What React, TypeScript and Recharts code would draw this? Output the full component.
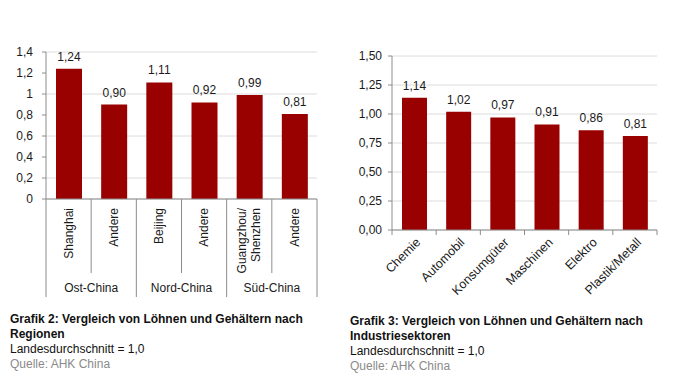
import React from "react";
import { BarChart, Bar, XAxis, YAxis, CartesianGrid, LabelList } from "recharts";

// Grafik 2: Regionen
const regions = ["Shanghai", "Andere", "Beijing", "Andere", "Guangzhou/\nShenzhen", "Andere"];
const regionGroups = ["Ost-China", "Nord-China", "Süd-China"];
const regionValues = [1.24, 0.9, 1.11, 0.92, 0.99, 0.81];
const regionTicks = [0, 0.2, 0.4, 0.6, 0.8, 1, 1.2, 1.4];

// Grafik 3: Industriesektoren
const sectors = ["Chemie", "Automobil", "Konsumgüter", "Maschinen", "Elektro", "Plastik/Metall"];
const sectorValues = [1.14, 1.02, 0.97, 0.91, 0.86, 0.81];
const sectorTicks = [0, 0.25, 0.5, 0.75, 1, 1.25, 1.5];

const FONT = "'Liberation Sans', Arial, Helvetica, sans-serif";
const BAR = "#990000";
const AXIS = "#8c8c8c";
const GRID = "#dcdcdc";

const comma = (v: number, d?: number) =>
  (d === undefined ? String(v) : v.toFixed(d)).replace(".", ",");

const regionData = regions.map((name, i) => ({ name, value: regionValues[i] }));
const sectorData = sectors.map((name, i) => ({ name, value: sectorValues[i] }));

// left chart geometry
const L_W = 330, L_H = 300, L_YW = 46, L_MR = 13;
const L_BAND = (L_W - L_YW - L_MR) / regions.length;

// right chart geometry
const R_W = 344, R_H = 300, R_YW = 52, R_MR = 27;
const R_BAND = (R_W - R_YW - R_MR) / sectors.length;

const RegionTick = (props: any) => {
  const { x, y, payload } = props;
  const i = payload.index;
  const half = L_BAND / 2;
  const lines = String(payload.value).split("\n");
  const isGroupStart = i % 2 === 0;
  return (
    <g>
      <line x1={x - half} x2={x - half} y1={y} y2={y + (isGroupStart ? 98 : 74)} stroke={AXIS} />
      {i === regions.length - 1 && (
        <line x1={x + half} x2={x + half} y1={y} y2={y + 98} stroke={AXIS} />
      )}
      <text
        transform={`rotate(-90, ${x}, ${y + 9})`}
        x={x}
        y={y + 9}
        textAnchor="end"
        fontSize={12}
        fontFamily={FONT}
        fill="#1a1a1a"
      >
        {lines.map((l, k) => (
          <tspan key={k} x={x} dy={k === 0 ? (lines.length === 1 ? "0.35em" : "-0.25em") : "1.15em"}>
            {l}
          </tspan>
        ))}
      </text>
      {isGroupStart && (
        <text
          x={x + half}
          y={y + 89}
          dy="0.35em"
          textAnchor="middle"
          fontSize={12}
          fontFamily={FONT}
          fill="#1a1a1a"
        >
          {regionGroups[i / 2]}
        </text>
      )}
    </g>
  );
};

const SectorTick = (props: any) => {
  const { x, y, payload } = props;
  const i = payload.index;
  const half = R_BAND / 2;
  return (
    <g>
      <line x1={x - half} x2={x - half} y1={y} y2={y + 5} stroke={AXIS} />
      {i === sectors.length - 1 && <line x1={x + half} x2={x + half} y1={y} y2={y + 5} stroke={AXIS} />}
      <text
        transform={`rotate(-45, ${x + 4}, ${y + 10})`}
        x={x + 4}
        y={y + 10}
        dy="0.35em"
        textAnchor="end"
        fontSize={12.5}
        fontFamily={FONT}
        fill="#1a1a1a"
      >
        {payload.value}
      </text>
    </g>
  );
};

const captionStyle: React.CSSProperties = {
  position: "absolute",
  fontFamily: FONT,
  fontSize: 12,
  lineHeight: "15px",
  color: "#111",
};

export default function App() {
  return (
    <div style={{ position: "absolute", left: 0, top: 0, width: 684, height: 386, background: "#fff" }}>
      <div style={{ position: "absolute", left: 0, top: 0 }}>
        <BarChart
          width={L_W}
          height={L_H}
          data={regionData}
          margin={{ top: 52, right: L_MR, bottom: 0, left: 0 }}
          barSize={26}
        >
          <CartesianGrid vertical={false} stroke={GRID} />
          <XAxis
            dataKey="name"
            height={101}
            axisLine={{ stroke: AXIS }}
            tickLine={false}
            tickSize={0}
            tickMargin={0}
            interval={0}
            tick={<RegionTick />}
          />
          <YAxis
            width={L_YW}
            domain={[0, 1.4]}
            ticks={regionTicks}
            axisLine={{ stroke: AXIS }}
            tickLine={{ stroke: AXIS }}
            tickSize={4}
            tickMargin={9}
            tickFormatter={(v: number) => comma(v)}
            tick={{ fontSize: 12, fontFamily: FONT, fill: "#1a1a1a" }}
          />
          <Bar dataKey="value" fill={BAR} isAnimationActive={false}>
            <LabelList
              dataKey="value"
              position="top"
              offset={8}
              formatter={(v: any) => comma(Number(v), 2)}
              style={{ fontSize: 12, fontFamily: FONT, fill: "#1a1a1a" }}
            />
          </Bar>
        </BarChart>
      </div>

      <div style={{ position: "absolute", left: 340, top: 0 }}>
        <BarChart
          width={R_W}
          height={R_H}
          data={sectorData}
          margin={{ top: 56, right: R_MR, bottom: 0, left: 0 }}
          barSize={25}
        >
          <CartesianGrid vertical={false} stroke={GRID} />
          <XAxis
            dataKey="name"
            height={70}
            axisLine={{ stroke: AXIS }}
            tickLine={false}
            tickSize={0}
            tickMargin={0}
            interval={0}
            tick={<SectorTick />}
          />
          <YAxis
            width={R_YW}
            domain={[0, 1.5]}
            ticks={sectorTicks}
            axisLine={{ stroke: AXIS }}
            tickLine={{ stroke: AXIS }}
            tickSize={4}
            tickMargin={6}
            tickFormatter={(v: number) => comma(v, 2)}
            tick={{ fontSize: 12, fontFamily: FONT, fill: "#1a1a1a" }}
          />
          <Bar dataKey="value" fill={BAR} isAnimationActive={false}>
            <LabelList
              dataKey="value"
              position="top"
              offset={8}
              formatter={(v: any) => comma(Number(v), 2)}
              style={{ fontSize: 12, fontFamily: FONT, fill: "#1a1a1a" }}
            />
          </Bar>
        </BarChart>
      </div>

      <div style={{ ...captionStyle, left: 10, top: 312 }}>
        <div style={{ fontWeight: "bold" }}>Grafik 2: Vergleich von Löhnen und Gehältern nach</div>
        <div style={{ fontWeight: "bold" }}>Regionen</div>
        <div>Landesdurchschnitt = 1,0</div>
        <div style={{ color: "#8a8a8a" }}>Quelle: AHK China</div>
      </div>

      <div style={{ ...captionStyle, left: 350, top: 314 }}>
        <div style={{ fontWeight: "bold" }}>Grafik 3: Vergleich von Löhnen und Gehältern nach</div>
        <div style={{ fontWeight: "bold" }}>Industriesektoren</div>
        <div>Landesdurchschnitt = 1,0</div>
        <div style={{ color: "#8a8a8a" }}>Quelle: AHK China</div>
      </div>
    </div>
  );
}
